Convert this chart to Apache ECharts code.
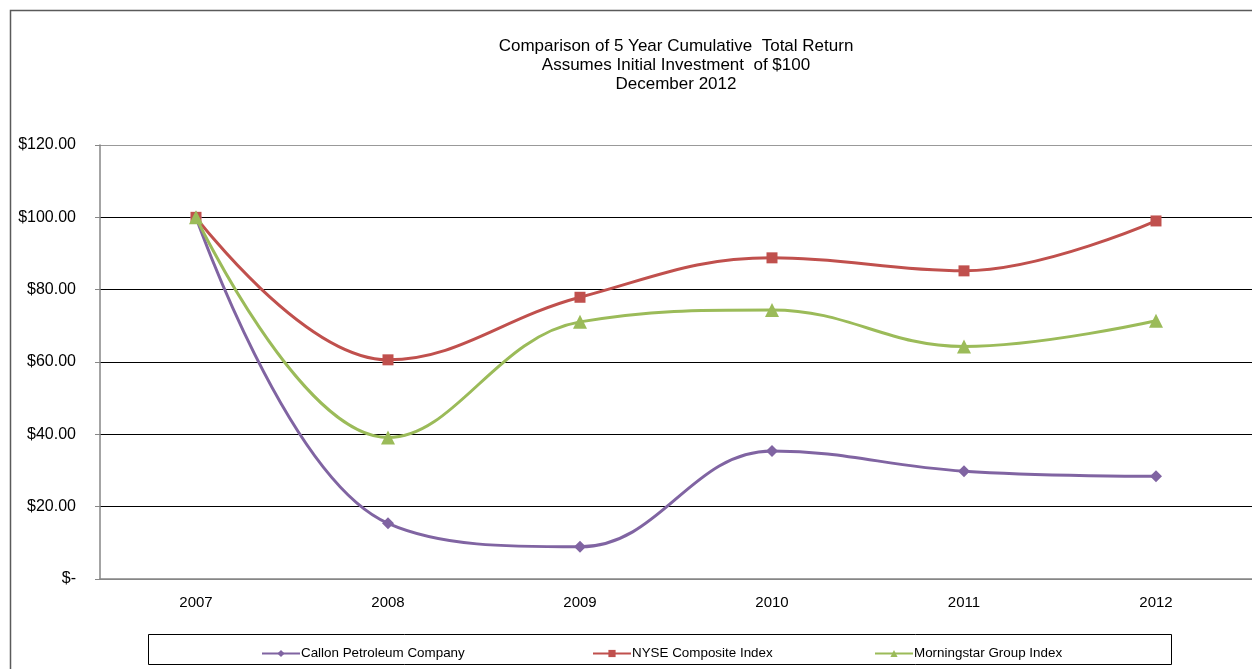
<!DOCTYPE html>
<html>
<head>
<meta charset="utf-8">
<script src="https://cdn.jsdelivr.net/npm/echarts@6/dist/echarts.min.js"></script>
<style>
  html, body { margin: 0; padding: 0; background: #fff; }
  #chart { width: 1252px; height: 669px; }
</style>
</head>
<body>
<div id="chart"></div>
<script>
// data
var years = ['2007', '2008', '2009', '2010', '2011', '2012'];
var callon = [100, 15.4, 8.9, 35.4, 29.8, 28.4];
var nyse = [100, 60.6, 77.9, 88.8, 85.2, 99.0];
var morningstar = [100, 39.1, 71.1, 74.4, 64.3, 71.4];
var seriesNames = ['Callon Petroleum Company', 'NYSE Composite Index', 'Morningstar Group Index'];
var titleLines = ['Comparison of 5 Year Cumulative  Total Return', 'Assumes Initial Investment  of $100', 'December 2012'];

var colors = ['#8064A2', '#C0504D', '#9BBB59'];
var font = 'Arial, "Liberation Sans", sans-serif';

var myChart = echarts.init(document.getElementById('chart'));

function legendAt(name, x) {
  return {
    data: [name],
    left: x,
    top: 647,
    itemWidth: 38,
    itemHeight: 9,
    itemGap: 0,
    padding: 0,
    textStyle: { fontFamily: font, fontSize: 13.4, color: '#000', padding: [0, 0, 0, -4] }
  };
}

myChart.setOption({
  animation: false,
  color: colors,
  title: {
    text: titleLines.join('\n'),
    left: 671,
    top: 32,
    textAlign: 'center',
    textStyle: { fontFamily: font, fontSize: 17, fontWeight: 'normal', color: '#000', lineHeight: 19 }
  },
  graphic: [
    {
      type: 'rect',
      shape: { x: 10.5, y: 10.5, width: 1300, height: 700 },
      style: { fill: 'none', stroke: '#5a5a5a', lineWidth: 1.5 },
      silent: true
    },
    {
      type: 'rect',
      shape: { x: 148.5, y: 634.5, width: 1023, height: 30 },
      style: { fill: '#fff', stroke: '#000', lineWidth: 1 },
      silent: true,
      z: 0
    }
  ],
  legend: [
    legendAt(seriesNames[0], 261),
    legendAt(seriesNames[1], 592),
    legendAt(seriesNames[2], 874)
  ],
  grid: { left: 100, right: -10, top: 145, bottom: 90 },
  xAxis: {
    type: 'category',
    data: years,
    boundaryGap: true,
    axisLine: { lineStyle: { color: '#868686', width: 1.5 } },
    axisTick: { alignWithLabel: true, length: 5, lineStyle: { color: '#868686' } },
    axisLabel: { fontFamily: font, fontSize: 15, color: '#000', margin: 16 }
  },
  yAxis: {
    type: 'value',
    min: 0,
    max: 120,
    interval: 20,
    axisLine: { show: true, lineStyle: { color: '#868686', width: 1.5 } },
    axisTick: { show: true, length: 5, lineStyle: { color: '#868686' } },
    axisLabel: {
      fontFamily: font, fontSize: 16, color: '#000', margin: 24,
      formatter: function (v) { return v === 0 ? '$-' : '$' + v.toFixed(2); }
    },
    splitLine: {
      lineStyle: { color: ['#868686', '#000', '#000', '#000', '#000', '#000', '#999'], width: 1 }
    }
  },
  series: [
    {
      name: seriesNames[0], type: 'line', data: callon, smooth: 0.4,
      symbol: 'diamond', symbolSize: 12,
      lineStyle: { width: 3 }
    },
    {
      name: seriesNames[1], type: 'line', data: nyse, smooth: 0.4,
      symbol: 'rect', symbolSize: 11,
      lineStyle: { width: 3 }
    },
    {
      name: seriesNames[2], type: 'line', data: morningstar, smooth: 0.4,
      symbol: 'triangle', symbolSize: 14,
      lineStyle: { width: 3 }
    }
  ]
});

window.addEventListener('resize', function () {
  myChart.resize();
});
</script>
</body>
</html>
